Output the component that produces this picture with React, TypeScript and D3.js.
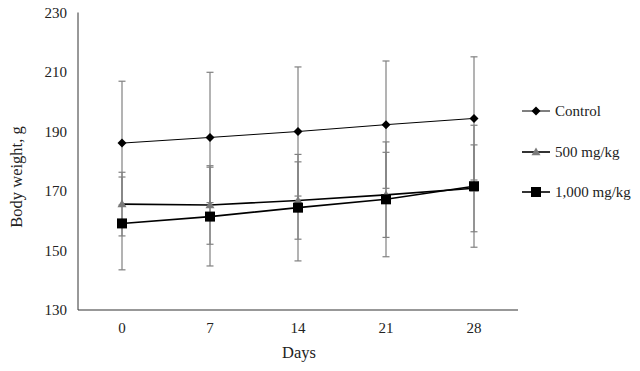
import React from 'react';
import * as d3 from 'd3';

const days = ['0', '7', '14', '21', '28'];
const yTicks = [130, 150, 170, 190, 210, 230];

const controlMean = [186.1, 188.0, 190.0, 192.3, 194.4];
const controlSd = [20.8, 21.9, 21.7, 21.4, 20.7];
const lowMean = [165.6, 165.3, 166.8, 168.7, 170.9];
const lowSd = [10.7, 13.2, 13.0, 14.3, 14.6];
const highMean = [159.1, 161.4, 164.4, 167.2, 171.6];
const highSd = [15.6, 16.6, 17.9, 19.3, 20.5];

const seriesNames = ['Control', '500 mg/kg', '1,000 mg/kg'];

const font = '"Liberation Serif", "Times New Roman", serif';

const App = () => {
  const width = 640;
  const height = 371;
  const margin = { top: 12.5, left: 78, right: 122, bottom: 61 };

  const x = d3.scaleBand().domain(days).range([margin.left, width - margin.right]);
  const y = d3.scaleLinear().domain([130, 230]).range([height - margin.bottom, margin.top]);
  const cx = (d: string) => (x(d) as number) + x.bandwidth() / 2;

  const series = [
    { name: seriesNames[0], mean: controlMean, sd: controlSd, marker: 'diamond', fill: '#000', lw: 1 },
    { name: seriesNames[1], mean: lowMean, sd: lowSd, marker: 'triangle', fill: '#7a7a7a', lw: 1.6 },
    { name: seriesNames[2], mean: highMean, sd: highSd, marker: 'square', fill: '#000', lw: 1.6 },
  ];

  const line = d3.line<number>().x((_, i) => cx(days[i])).y((v) => y(v));

  const marker = (type: string, px: number, py: number, fill: string, key: string) => {
    if (type === 'diamond') {
      const r = 4.5;
      return <path key={key} d={`M${px},${py - r}L${px + r},${py}L${px},${py + r}L${px - r},${py}Z`} fill={fill} />;
    }
    if (type === 'triangle') {
      const r = 4.5;
      return <path key={key} d={`M${px},${py - r}L${px + r},${py + r * 0.7}L${px - r},${py + r * 0.7}Z`} fill={fill} />;
    }
    return <rect key={key} x={px - 5} y={py - 5} width={10} height={10} fill={fill} />;
  };

  const legendY = [111, 152, 192];

  return (
    <svg width={width} height={height} style={{ position: 'absolute', left: 0, top: 0, background: '#fff' }} fontFamily={font}>
      {/* error bars */}
      {series.map((s, si) =>
        s.mean.map((m, i) => {
          const px = cx(days[i]);
          const top = y(m + s.sd[i]);
          const bot = y(m - s.sd[i]);
          return (
            <g key={`e${si}-${i}`} stroke="#808080" strokeWidth={1.2}>
              <line x1={px} x2={px} y1={top} y2={bot} />
              <line x1={px - 3.5} x2={px + 3.5} y1={top} y2={top} />
              <line x1={px - 3.5} x2={px + 3.5} y1={bot} y2={bot} />
            </g>
          );
        })
      )}
      {/* axes */}
      <line x1={margin.left} x2={margin.left} y1={y(230)} y2={y(130)} stroke="#333" strokeWidth={1} />
      <line x1={margin.left} x2={width - margin.right} y1={y(130)} y2={y(130)} stroke="#333" strokeWidth={1.2} />
      {yTicks.map((t) => (
        <text key={t} x={67} y={y(t) + 5} textAnchor="end" fontSize={15} fill="#222">
          {t}
        </text>
      ))}
      {days.map((d) => (
        <text key={d} x={cx(d)} y={333} textAnchor="middle" fontSize={15} fill="#222">
          {d}
        </text>
      ))}
      <text x={299} y={358} textAnchor="middle" fontSize={16.5} fill="#222">
        Days
      </text>
      <text transform={`translate(22,177) rotate(-90)`} textAnchor="middle" fontSize={16.5} fill="#222">
        Body weight, g
      </text>
      {/* lines and markers */}
      {series.map((s, si) => (
        <g key={`s${si}`}>
          <path d={line(s.mean) as string} fill="none" stroke="#000" strokeWidth={s.lw} />
          {s.mean.map((m, i) => marker(s.marker, cx(days[i]), y(m), s.fill, `m${si}-${i}`))}
        </g>
      ))}
      {/* legend */}
      {series.map((s, si) => (
        <g key={`l${si}`}>
          <line x1={522} x2={550} y1={legendY[si]} y2={legendY[si]} stroke="#000" strokeWidth={s.lw} />
          {marker(s.marker, 536, legendY[si], s.fill, `lm${si}`)}
          <text x={555} y={legendY[si] + 5} fontSize={15} fill="#222">
            {s.name}
          </text>
        </g>
      ))}
    </svg>
  );
};

export default App;
